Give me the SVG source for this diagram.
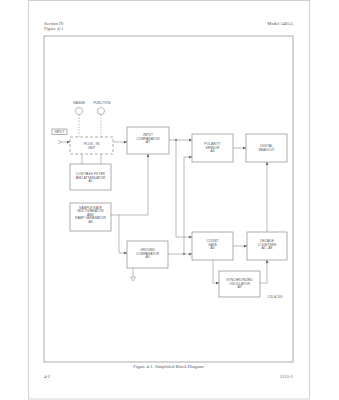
<svg xmlns="http://www.w3.org/2000/svg" width="339" height="400" viewBox="0 0 339 400">
<defs>
<marker id="ar" viewBox="0 0 6 6" refX="6" refY="3" markerWidth="3" markerHeight="3" orient="auto" markerUnits="userSpaceOnUse">
<path d="M0,0 L6,3 L0,6 z" fill="#666"/>
</marker>
<style>
.pg{fill:#fff;stroke:#c8c8c8;stroke-width:0.8}
.fr{fill:none;stroke:#888;stroke-width:0.7}
.bx{fill:#fff;stroke:#777;stroke-width:0.6}
.dbx{fill:#fff;stroke:#777;stroke-width:0.6;stroke-dasharray:3,2}
.ln{fill:none;stroke:#777;stroke-width:0.5}
.dl{fill:none;stroke:#777;stroke-width:0.5;stroke-dasharray:1.5,1.5}
.t{font-family:"Liberation Sans",Arial,sans-serif;font-size:3.3px;fill:#555;text-anchor:middle}
.h{font-family:"Liberation Serif","Times New Roman",serif;font-size:4.6px;fill:#555}
</style>
</defs>
<rect width="339" height="400" fill="#fff"/>
<rect class="pg" x="28.5" y="0.5" width="281" height="398.5"/>
<rect class="fr" x="44" y="36" width="249" height="326"/>
<text class="h" x="44" y="25">Section IV</text>
<text class="h" x="44" y="30">Figure 4-1</text>
<text class="h" x="293" y="25" text-anchor="end">Model 5405A</text>
<text class="h" x="168.5" y="368" text-anchor="middle">Figure 4-1.  Simplified Block Diagram</text>
<text class="h" x="44" y="378">4-2</text>
<text class="h" x="293" y="378" text-anchor="end">5155-1</text>

<g id="connectors">
<path class="ln" d="M58,140 L61,142 L58,144 M61,142 L70,142" marker-end="url(#ar)"/>
<path class="ln" d="M113,142 L127,142" marker-end="url(#ar)"/>
<path class="ln" d="M82,154 L82,164 M101,154 L101,164"/>
<path class="dl" d="M79,114.5 L79,137 M101,114.5 L101,137"/>
<path class="ln" d="M169,140 L192,140" marker-end="url(#ar)"/>
<path class="ln" d="M176,140 L176,237 L192,237" marker-end="url(#ar)"/>
<circle cx="176" cy="140" r="0.9" fill="#666"/>
<path class="ln" d="M233,148 L246,148" marker-end="url(#ar)"/>
<path class="ln" d="M267,232 L267,162" marker-end="url(#ar)"/>
<path class="ln" d="M233,246 L247,246" marker-end="url(#ar)"/>
<path class="ln" d="M168,254 L192,254" marker-end="url(#ar)"/>
<path class="ln" d="M184,254 L184,157 L192,157" marker-end="url(#ar)"/>
<circle cx="184" cy="254" r="0.9" fill="#666"/>
<path class="ln" d="M111,215 L148,215 L148,154" marker-end="url(#ar)"/>
<path class="ln" d="M119,215 L119,253 L127,253" marker-end="url(#ar)"/>
<path class="ln" d="M133,268 L133,277"/>
<path class="ln" d="M130.5,277 L135.5,277 L133,281 Z"/>
<path class="ln" d="M213,260 L213,283 L219,283" marker-end="url(#ar)"/>
<path class="ln" d="M260,283 L267,283 L267,260" marker-end="url(#ar)"/>
</g>

<g id="range">
<circle class="ln" cx="79" cy="111" r="3.5"/>
<text class="t" x="79" y="104">RANGE</text>
</g>
<g id="function">
<circle class="ln" cx="101" cy="111" r="3.5"/>
<text class="t" x="102" y="104">FUNCTION</text>
</g>
<g id="input">
<rect class="bx" x="52" y="129" width="15" height="5.5"/>
<text class="t" x="59.5" y="133">INPUT</text>
</g>
<g id="plugin">
<rect class="dbx" x="70" y="137" width="43" height="17"/>
<text class="t" x="91.5" y="145">PLUG - IN</text>
<text class="t" x="91.5" y="148.5">UNIT</text>
</g>
<g id="lpf">
<rect class="bx" x="70" y="164" width="41" height="26"/>
<text class="t" x="90.5" y="175">LOW PASS FILTER</text>
<text class="t" x="90.5" y="178.5">AND ATTENUATOR</text>
<text class="t" x="90.5" y="182">A1</text>
</g>
<g id="samplerate">
<rect class="bx" x="70" y="203" width="41" height="28"/>
<text class="t" x="90.5" y="208.5">SAMPLE  RATE</text>
<text class="t" x="90.5" y="212">MULTIVIBRATOR</text>
<text class="t" x="90.5" y="215.5">AND</text>
<text class="t" x="90.5" y="219">RAMP GENERATOR</text>
<text class="t" x="90.5" y="222.5">A3</text>
</g>
<g id="inputcomp">
<rect class="bx" x="127" y="127" width="42" height="27"/>
<text class="t" x="148" y="136">INPUT</text>
<text class="t" x="148" y="139.5">COMPARATOR</text>
<text class="t" x="148" y="143">A7</text>
</g>
<g id="groundcomp">
<rect class="bx" x="127" y="241" width="41" height="27"/>
<text class="t" x="147.5" y="251">GROUND</text>
<text class="t" x="147.5" y="254.5">COMPARATOR</text>
<text class="t" x="147.5" y="258">A3</text>
</g>
<g id="polarity">
<rect class="bx" x="192" y="134" width="41" height="28"/>
<text class="t" x="212.5" y="145">POLARITY</text>
<text class="t" x="212.5" y="148.5">SENSOR</text>
<text class="t" x="212.5" y="152">A4</text>
</g>
<g id="readout">
<rect class="bx" x="246" y="134" width="41" height="28"/>
<text class="t" x="266.5" y="147">DIGITAL</text>
<text class="t" x="266.5" y="150.5">READOUT</text>
</g>
<g id="countgate">
<rect class="bx" x="192" y="232" width="41" height="28"/>
<text class="t" x="212.5" y="242">COUNT</text>
<text class="t" x="212.5" y="245.5">GATE</text>
<text class="t" x="212.5" y="249">A4</text>
</g>
<g id="decade">
<rect class="bx" x="247" y="232" width="40" height="28"/>
<text class="t" x="267" y="242">DECADE</text>
<text class="t" x="267" y="245.5">COUNTERS</text>
<text class="t" x="267" y="249">A5 - A8</text>
</g>
<g id="oscillator">
<rect class="bx" x="219" y="271" width="41" height="26"/>
<text class="t" x="239.5" y="281">SYNCHRONIZED</text>
<text class="t" x="239.5" y="284.5">OSCILLATOR</text>
<text class="t" x="239.5" y="288">A9</text>
</g>
<text class="t" x="275" y="297.5" style="font-size:2.6px">5155-A-1509</text>
</svg>
